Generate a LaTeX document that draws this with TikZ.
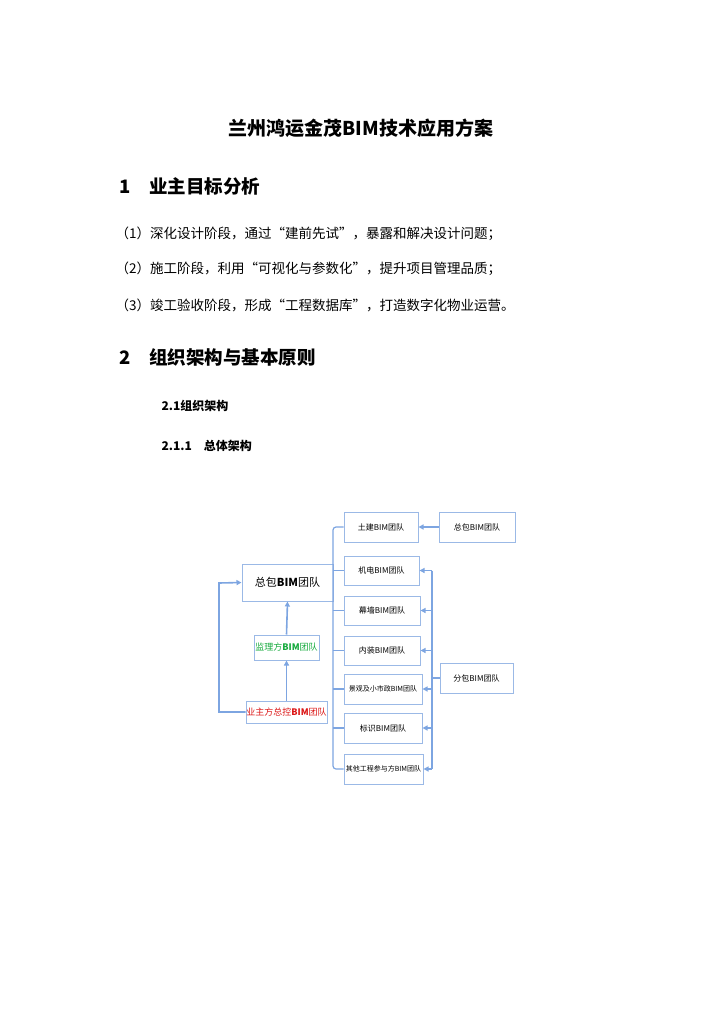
\documentclass[tikz,border=0pt]{standalone}
\usepackage{fontspec}
\setmainfont{Noto Sans CJK SC}
\usetikzlibrary{arrows.meta}
\definecolor{bx}{RGB}{155,185,230}
\definecolor{ar}{RGB}{125,165,225}
\definecolor{gr}{RGB}{20,170,60}
\definecolor{rd}{RGB}{220,20,20}
\begin{document}
\begin{tikzpicture}[x=1pt,y=-1pt,
  tbox/.style={draw=bx,line width=1pt,fill=white,inner sep=0pt,font=\fontsize{8}{10}\selectfont},
  small/.style={font=\fontsize{7}{9}\selectfont},
  arr/.style={draw=ar,line width=1.6pt,-{Triangle[length=5pt,width=5pt]}},
  ln/.style={draw=ar,line width=1.2pt,rounded corners=3pt}]
\useasboundingbox (0,0) rectangle (724,1024);
\node[font=\fontsize{19}{21}\selectfont\bfseries] (title) at (361,128) {兰州鸿运金茂BIM技术应用方案};
\node[anchor=west,font=\fontsize{18.5}{20}\selectfont\bfseries] (h1) at (116,186) {1\quad 业主目标分析};
\tikzset{body/.style={anchor=west,font=\fontsize{13.5}{15}\selectfont}}
\node[body] (l1) at (112,234) {（1）深化设计阶段，通过“建前先试”，暴露和解决设计问题；};
\node[body] (l2) at (112,269) {（2）施工阶段，利用“可视化与参数化”，提升项目管理品质；};
\node[body] (l3) at (112,305) {（3）竣工验收阶段，形成“工程数据库”，打造数字化物业运营。};
\node[anchor=west,font=\fontsize{18.5}{20}\selectfont\bfseries] (h2) at (116,357) {2\quad 组织架构与基本原则};
\node[anchor=west,font=\fontsize{12}{13}\selectfont\bfseries] (h21) at (158,406) {2.1组织架构};
\node[anchor=west,font=\fontsize{12}{13}\selectfont\bfseries] (h211) at (158,446) {2.1.1\quad 总体架构};
% boxes
\node[tbox,minimum width=74pt,minimum height=30pt] (tj) at (381,527) {土建BIM团队};
\node[tbox,minimum width=76pt,minimum height=30pt] (zbr) at (477,527) {总包BIM团队};
\node[tbox,minimum width=75pt,minimum height=29pt] (jd) at (381.5,570.5) {机电BIM团队};
\node[tbox,minimum width=76pt,minimum height=29pt] (mq) at (382,610.5) {幕墙BIM团队};
\node[tbox,minimum width=76pt,minimum height=29pt] (nz) at (382,650.5) {内装BIM团队};
\node[tbox,small,minimum width=78pt,minimum height=30pt] (jg) at (383,689) {景观及小市政BIM团队};
\node[tbox,minimum width=78pt,minimum height=30pt] (bs) at (383,728) {标识BIM团队};
\node[tbox,small,minimum width=79pt,minimum height=30pt] (qt) at (383.5,769) {其他工程参与方BIM团队};
\node[tbox,minimum width=73pt,minimum height=30pt] (fb) at (476.5,678) {分包BIM团队};
\node[tbox,minimum width=91pt,minimum height=37pt,font=\fontsize{11}{12}\selectfont] (zbl) at (287.5,582.5) {总包\textbf{BIM}团队};
\node[tbox,minimum width=65pt,minimum height=25pt,text=gr,font=\fontsize{9}{11}\selectfont] (jl) at (286.5,647.5) {监理方\textbf{BIM}团队};
\node[tbox,minimum width=81pt,minimum height=22pt,text=rd,font=\fontsize{9}{11}\selectfont] (yz) at (286.5,712) {业主方总控\textbf{BIM}团队};
% left arrows
\draw[arr] (yz.north) -- (jl.south);
\draw[arr] (jl.north) -- (zbl.south);
\draw[arr] (yz.west) -- (219,712) -- (219,583) -- (zbl.west);
% bracket
\coordinate (bx) at (333,0);
\draw[ln] (tj.west) -- (tj.west -| bx) -- (qt.west -| bx) -- (qt.west);
\foreach \b in {jd,mq,nz,jg,bs} \draw[ln] (\b.west -| bx) -- (\b.west);
% right
\draw[arr] (zbr.west) -- (tj.east);
\coordinate (rx) at (432,0);
\draw[ln] (fb.west) -- (fb.west -| rx);
\draw[ln] (jd.east -| rx) -- (qt.east -| rx);
\foreach \b in {jd,mq,nz,jg,bs,qt} \draw[arr] (\b.east -| rx) -- (\b.east);
\end{tikzpicture}
\end{document}
